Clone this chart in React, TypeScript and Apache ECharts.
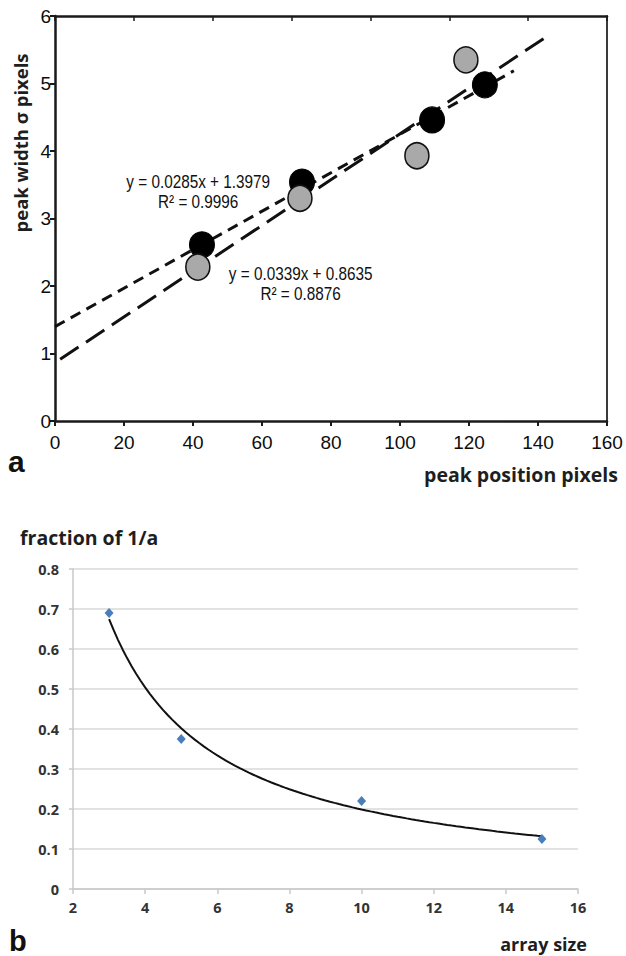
import React, { useEffect, useRef } from "react";
import * as echarts from "echarts";

// ---- Panel a: peak width vs. peak position ----
const darkX = [42.6, 71.6, 109.3, 124.6];
const darkY = [2.61, 3.54, 4.46, 4.98];
const greyX = [41.4, 71.0, 104.9, 119.1];
const greyY = [2.28, 3.3, 3.93, 5.35];

// linear trendlines: [slope, intercept], R², drawn x-range
const darkFit = [0.0285, 1.3979];
const darkR2 = 0.9996;
const darkFitRange = [0, 133];
const greyFit = [0.0339, 0.8635];
const greyR2 = 0.8876;
const greyFitRange = [1.5, 142];

// where each equation block is centred, in data units
const darkEqAt = [41.5, 3.39];
const greyEqAt = [71.2, 2.03];

// ---- Panel b: fraction of 1/a vs. array size ----
const arraySize = [3, 5, 10, 15];
const fraction = [0.69, 0.375, 0.22, 0.125];

const SANS = "'Liberation Sans', Arial, sans-serif";
const TITLE = "'Open Sans', 'Noto Sans', sans-serif";

function linePts(fit: number[], range: number[]) {
  return range.map((x) => [x, fit[0] * x + fit[1]]);
}

// least-squares power fit y = a * x^b on log-log values
function powerFit(xs: number[], ys: number[]) {
  const lx = xs.map(Math.log);
  const ly = ys.map(Math.log);
  const n = xs.length;
  const mx = lx.reduce((s, v) => s + v, 0) / n;
  const my = ly.reduce((s, v) => s + v, 0) / n;
  let sxy = 0;
  let sxx = 0;
  for (let i = 0; i < n; i++) {
    sxy += (lx[i] - mx) * (ly[i] - my);
    sxx += (lx[i] - mx) * (lx[i] - mx);
  }
  const b = sxy / sxx;
  const a = Math.exp(my - b * mx);
  return { a, b };
}

function eqText(fit: number[], r2: number) {
  return `y = ${fit[0].toFixed(4)}x + ${fit[1].toFixed(4)}\nR² = ${r2.toFixed(4)}`;
}

export default function App() {
  const ref = useRef<HTMLDivElement>(null);

  useEffect(() => {
    if (!ref.current) return;
    const chart = echarts.init(ref.current, undefined, { renderer: "svg" });

    const pf = powerFit(arraySize, fraction);
    const x0 = arraySize[0];
    const x1 = arraySize[arraySize.length - 1];
    const curve: number[][] = [];
    for (let i = 0; i <= 96; i++) {
      const x = x0 + ((x1 - x0) * i) / 96;
      curve.push([x, pf.a * Math.pow(x, pf.b)]);
    }

    const blackAxis = { color: "#1a1a1a", width: 2.5 };
    const greyAxis = { color: "#c8c8c8", width: 1.5 };

    const titleText = (id: string, x: number, y: number, text: string, size: number, align: string, extra: any = {}) => ({
      id,
      type: "text",
      x,
      y,
      ...extra,
      style: {
        text,
        fontFamily: TITLE,
        fontWeight: "bold",
        fontSize: size,
        fill: "#1e1e1e",
        align,
        verticalAlign: "middle",
      },
    });

    chart.setOption({
      animation: false,
      backgroundColor: "#ffffff",
      grid: [
        { left: 55, top: 16, width: 552, height: 405 },
        { left: 73, top: 569, width: 505, height: 320 },
      ],
      xAxis: [
        {
          gridIndex: 0,
          type: "value",
          min: 0,
          max: 160,
          interval: 20,
          axisLine: { show: true, onZero: false, lineStyle: blackAxis },
          axisTick: { show: true, inside: false, length: 5, lineStyle: { color: "#1a1a1a", width: 2 } },
          axisLabel: { fontFamily: SANS, fontSize: 19, color: "#0d0d0d", margin: 12 },
          splitLine: { show: false },
        },
        {
          gridIndex: 0,
          type: "value",
          position: "top",
          min: 0,
          max: 7,
          interval: 1,
          axisLine: { show: true, onZero: false, lineStyle: blackAxis },
          axisTick: { show: true, inside: true, length: 5, lineStyle: { color: "#1a1a1a", width: 1.5 } },
          axisLabel: { show: false },
          splitLine: { show: false },
        },
        {
          gridIndex: 1,
          type: "value",
          min: 2,
          max: 16,
          interval: 2,
          axisLine: { show: true, onZero: false, lineStyle: greyAxis },
          axisTick: { show: true, length: 5, lineStyle: greyAxis },
          axisLabel: { fontFamily: TITLE, fontWeight: "bold", fontSize: 14.5, color: "#333333", margin: 11 },
          splitLine: { show: false },
        },
      ],
      yAxis: [
        {
          gridIndex: 0,
          type: "value",
          min: 0,
          max: 6,
          interval: 1,
          axisLine: { show: true, onZero: false, lineStyle: blackAxis },
          axisTick: { show: true, length: 5, lineStyle: { color: "#1a1a1a", width: 2 } },
          axisLabel: { fontFamily: SANS, fontSize: 19, color: "#0d0d0d", margin: 4 },
          splitLine: { show: false },
        },
        {
          gridIndex: 0,
          type: "value",
          position: "right",
          min: 0,
          max: 6,
          interval: 1,
          axisLine: { show: true, onZero: false, lineStyle: { color: "#3a3a3a", width: 2 } },
          axisTick: { show: false },
          axisLabel: { show: false },
          splitLine: { show: false },
        },
        {
          gridIndex: 1,
          type: "value",
          min: 0,
          max: 0.8,
          interval: 0.1,
          axisLine: { show: true, onZero: false, lineStyle: greyAxis },
          axisTick: { show: true, length: 4, lineStyle: greyAxis },
          axisLabel: {
            fontFamily: TITLE,
            fontWeight: "bold",
            fontSize: 14.5,
            color: "#333333",
            margin: 14,
            formatter: (v: number) => (v === 0 ? "0" : String(Math.round(v * 10) / 10)),
          },
          splitLine: { show: true, lineStyle: { color: "#d9d9d9", width: 1.5 } },
        },
      ],
      series: [
        {
          name: "dark fit",
          type: "line",
          xAxisIndex: 0,
          yAxisIndex: 0,
          data: linePts(darkFit, darkFitRange),
          symbol: "none",
          silent: true,
          lineStyle: { color: "#111", width: 3, type: [11, 7] },
          z: 2,
        },
        {
          name: "grey fit",
          type: "line",
          xAxisIndex: 0,
          yAxisIndex: 0,
          data: linePts(greyFit, greyFitRange),
          symbol: "none",
          silent: true,
          lineStyle: { color: "#111", width: 3, type: [22, 9] },
          z: 2,
        },
        {
          name: "dark",
          type: "scatter",
          xAxisIndex: 0,
          yAxisIndex: 0,
          data: darkX.map((x, i) => [x, darkY[i]]),
          symbol: "circle",
          symbolSize: [25, 26],
          itemStyle: { color: "#000", borderColor: "#000", borderWidth: 1, opacity: 1 },
          z: 3,
        },
        {
          name: "grey",
          type: "scatter",
          xAxisIndex: 0,
          yAxisIndex: 0,
          data: greyX.map((x, i) => [x, greyY[i]]),
          symbol: "circle",
          symbolSize: [24, 26],
          itemStyle: { color: "#a9a9a9", borderColor: "#111", borderWidth: 1.6, opacity: 1 },
          z: 4,
        },
        {
          name: "power fit",
          type: "line",
          xAxisIndex: 2,
          yAxisIndex: 2,
          data: curve,
          symbol: "none",
          silent: true,
          lineStyle: { color: "#111", width: 2 },
          z: 2,
        },
        {
          name: "fraction",
          type: "scatter",
          xAxisIndex: 2,
          yAxisIndex: 2,
          data: arraySize.map((x, i) => [x, fraction[i]]),
          symbol: "diamond",
          symbolSize: [9, 10],
          itemStyle: { color: "#4a7ebb", opacity: 1 },
          z: 3,
        },
      ],
      graphic: [
        titleText("yTitleA", 20, 143, "peak width σ pixels", 18.5, "center", { rotation: Math.PI / 2 }),
        titleText("xTitleA", 618, 474, "peak position pixels", 19.5, "right"),
        titleText("yTitleB", 20, 537, "fraction of 1/a", 19.5, "left"),
        titleText("xTitleB", 587, 944, "array size", 18, "right"),
        {
          id: "panelA",
          type: "text",
          x: 8,
          y: 461,
          style: { text: "a", fontFamily: SANS, fontWeight: "bold", fontSize: 30, fill: "#111", align: "left", verticalAlign: "middle" },
        },
        {
          id: "panelB",
          type: "text",
          x: 9,
          y: 941,
          style: { text: "b", fontFamily: SANS, fontWeight: "bold", fontSize: 29, fill: "#111", align: "left", verticalAlign: "middle" },
        },
      ],
    });

    // trendline equations, placed at data coordinates and set in a narrowed face
    const eqGraphics = [
      { id: "eqDark", at: darkEqAt, text: eqText(darkFit, darkR2) },
      { id: "eqGrey", at: greyEqAt, text: eqText(greyFit, greyR2) },
    ].map((e) => {
      const p = chart.convertToPixel({ xAxisIndex: 0, yAxisIndex: 0 }, e.at) as number[];
      return {
        id: e.id,
        type: "text",
        x: p[0],
        y: p[1],
        scaleX: 0.85,
        z: 10,
        style: {
          text: e.text,
          fontFamily: SANS,
          fontSize: 18,
          lineHeight: 20,
          fill: "#111",
          align: "center",
          verticalAlign: "middle",
        },
      };
    });
    chart.setOption({ graphic: eqGraphics });

    return () => chart.dispose();
  }, []);

  return (
    <div
      ref={ref}
      style={{ position: "fixed", left: 0, top: 0, width: 626, height: 956, background: "#fff" }}
    />
  );
}
